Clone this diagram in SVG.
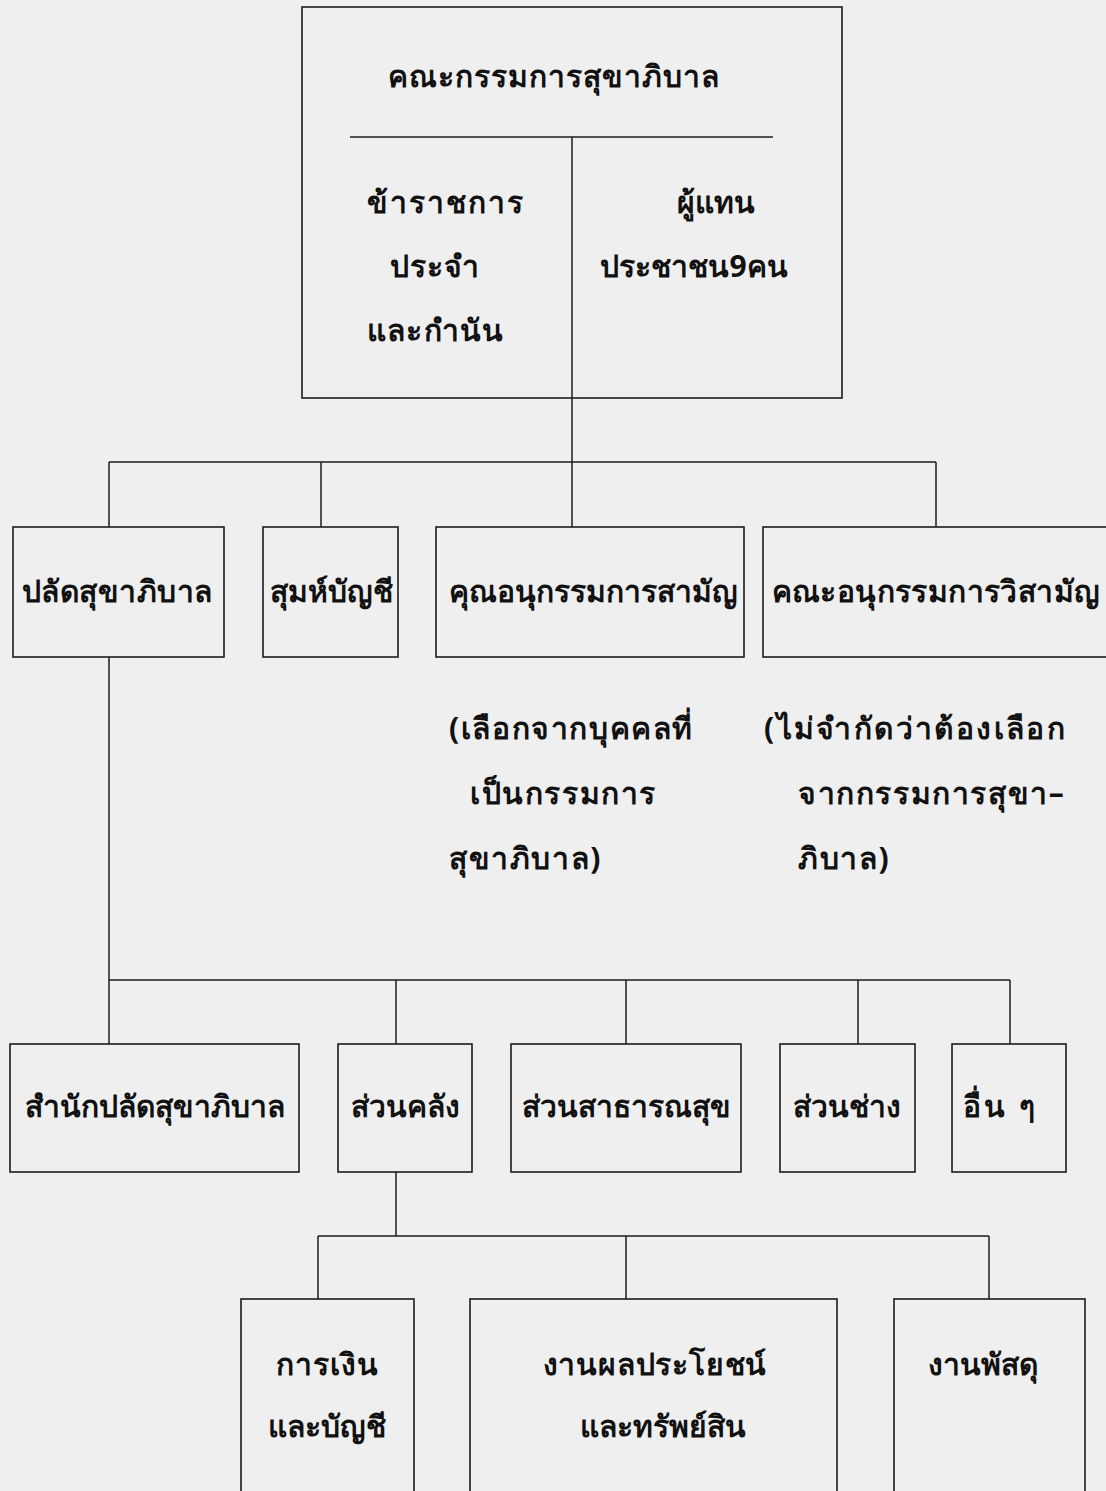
<svg xmlns="http://www.w3.org/2000/svg" width="1106" height="1491" viewBox="0 0 1106 1491">
<style>
.bx{fill:none;stroke:#1c1c1c;stroke-width:1.6}
.ln{fill:none;stroke:#1c1c1c;stroke-width:1.5}
text{font-family:"Noto Sans","DejaVu Sans",sans-serif;font-weight:bold;font-size:30px;fill:#111}
.c{text-anchor:middle}
.n{letter-spacing:1.6px}
</style>
<rect width="1106" height="1491" fill="#efefef"/>
<g id="connectors">
<line class="ln" x1="572" y1="398" x2="572" y2="462"/>
<line class="ln" x1="109" y1="462" x2="936" y2="462"/>
<line class="ln" x1="109" y1="462" x2="109" y2="527"/>
<line class="ln" x1="321" y1="462" x2="321" y2="527"/>
<line class="ln" x1="572" y1="462" x2="572" y2="527"/>
<line class="ln" x1="936" y1="462" x2="936" y2="527"/>
<line class="ln" x1="109" y1="657" x2="109" y2="980"/>
<line class="ln" x1="109" y1="980" x2="1010" y2="980"/>
<line class="ln" x1="109" y1="980" x2="109" y2="1044"/>
<line class="ln" x1="396" y1="980" x2="396" y2="1044"/>
<line class="ln" x1="626" y1="980" x2="626" y2="1044"/>
<line class="ln" x1="858" y1="980" x2="858" y2="1044"/>
<line class="ln" x1="1010" y1="980" x2="1010" y2="1044"/>
<line class="ln" x1="396" y1="1172" x2="396" y2="1236"/>
<line class="ln" x1="318" y1="1236" x2="989" y2="1236"/>
<line class="ln" x1="318" y1="1236" x2="318" y2="1299"/>
<line class="ln" x1="626" y1="1236" x2="626" y2="1299"/>
<line class="ln" x1="989" y1="1236" x2="989" y2="1299"/>
</g>
<g id="board">
<rect class="bx" x="302" y="7" width="540" height="391"/>
<line class="ln" x1="350" y1="137" x2="773" y2="137"/>
<line class="ln" x1="572" y1="137" x2="572" y2="398"/>
<text class="c" x="554" y="87" style="letter-spacing:1px">คณะกรรมการสุขาภิบาล</text>
<text x="367" y="213" style="letter-spacing:2px">ข้าราชการ</text>
<text x="390" y="277" style="letter-spacing:1px">ประจำ</text>
<text x="367" y="341" style="letter-spacing:1.2px">และกำนัน</text>
<text class="c" x="716" y="213">ผู้แทน</text>
<text class="c" x="694" y="277">ประชาชน9คน</text>
</g>
<g id="n-palat">
<rect class="bx" x="13" y="527" width="211" height="130"/>
<text class="c" x="117" y="602" style="letter-spacing:0.5px">ปลัดสุขาภิบาล</text>
</g>
<g id="n-samuh">
<rect class="bx" x="263" y="527" width="135" height="130"/>
<text class="c" x="331" y="602">สุมห์บัญชี</text>
</g>
<g id="n-saman">
<rect class="bx" x="436" y="527" width="308" height="130"/>
<text class="c" x="593" y="602">คุณอนุกรรมการสามัญ</text>
</g>
<g id="n-wisaman">
<rect class="bx" x="763" y="527" width="360" height="130"/>
<text class="c" x="936" y="602" style="letter-spacing:0.4px">คณะอนุกรรมการวิสามัญ</text>
</g>
<g id="note-saman">
<text class="n" x="449" y="739">(เลือกจากบุคคลที่</text>
<text class="n" x="470" y="804">เป็นกรรมการ</text>
<text class="n" x="449" y="869">สุขาภิบาล)</text>
</g>
<g id="note-wisaman">
<text class="n" x="764" y="739" style="letter-spacing:2.4px">(ไม่จำกัดว่าต้องเลือก</text>
<text class="n" x="798" y="804">จากกรรมการสุขา–</text>
<text class="n" x="798" y="869">ภิบาล)</text>
</g>
<g id="n-office">
<rect class="bx" x="10" y="1044" width="289" height="128"/>
<text class="c" x="155" y="1117">สำนักปลัดสุขาภิบาล</text>
</g>
<g id="n-treasury">
<rect class="bx" x="338" y="1044" width="134" height="128"/>
<text class="c" x="405" y="1117">ส่วนคลัง</text>
</g>
<g id="n-health">
<rect class="bx" x="511" y="1044" width="230" height="128"/>
<text class="c" x="626" y="1117">ส่วนสาธารณสุข</text>
</g>
<g id="n-works">
<rect class="bx" x="780" y="1044" width="135" height="128"/>
<text class="c" x="847" y="1117">ส่วนช่าง</text>
</g>
<g id="n-other">
<rect class="bx" x="952" y="1044" width="114" height="128"/>
<text x="963" y="1117" style="letter-spacing:3px">อื่น ๆ</text>
</g>
<g id="n-finance">
<rect class="bx" x="241" y="1299" width="173" height="220"/>
<text class="c" x="327" y="1375" style="letter-spacing:1px">การเงิน</text>
<text class="c" x="327" y="1437">และบัญชี</text>
</g>
<g id="n-revenue">
<rect class="bx" x="470" y="1299" width="367" height="220"/>
<text class="c" x="655" y="1375" style="letter-spacing:0.8px">งานผลประโยชน์</text>
<text class="c" x="663" y="1437">และทรัพย์สิน</text>
</g>
<g id="n-supply">
<rect class="bx" x="894" y="1299" width="191" height="220"/>
<text class="c" x="983" y="1375">งานพัสดุ</text>
</g>
</svg>
